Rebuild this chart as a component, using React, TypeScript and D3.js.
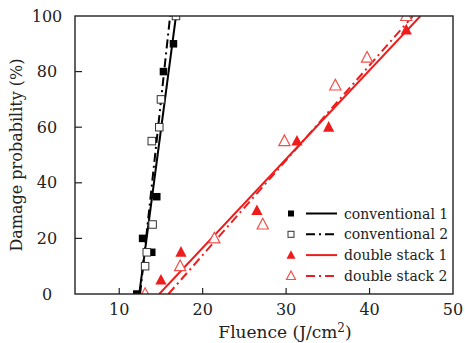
import React from 'react';
import * as d3 from 'd3';

// measured points (fluence J/cm2, damage probability %)
const conv1 = [[12.1, 0], [12.8, 20], [13.9, 15], [14.5, 35], [15.3, 80], [16.5, 90]];
const conv2 = [[13.1, 10], [13.3, 15], [14.0, 25], [13.9, 55], [14.8, 60], [15.0, 70], [16.8, 100]];
const double1 = [[15.0, 5], [17.4, 15], [26.5, 30], [31.3, 55], [35.1, 60], [44.4, 95]];
const double2 = [[13.1, 0], [17.3, 10], [21.4, 20], [27.2, 25], [29.8, 55], [35.9, 75], [39.7, 85], [44.4, 100]];

// fitted lines as (x at 0 %, x at 100 %)
const fitConv1 = [[12.4, 0], [16.8, 100]];
const fitConv2 = [[12.5, 0], [16.1, 100]];
const fitDouble1 = [[14.8, 0], [46.1, 100]];
const fitDouble2 = [[15.9, 0], [45.2, 100]];

const xTicks = [10, 20, 30, 40, 50];
const yTicks = [0, 20, 40, 60, 80, 100];
const legendLabels = ['conventional 1', 'conventional 2', 'double stack 1', 'double stack 2'];

const RED = '#ee1d1d';
const PINK = '#f0504a';
const FONT = '"DejaVu Serif", serif';

const W = 465, H = 343;
const left = 75, right = 453, top = 16, bottom = 294;

const x = d3.scaleLinear().domain([4.7, 50]).range([left, right]);
const y = d3.scaleLinear().domain([0, 100]).range([bottom, top]);
const line = d3.line<number[]>().x(d => x(d[0])).y(d => y(d[1]));

const tri = (cx: number, cy: number, s: number) =>
  `M${cx},${cy - s * 0.55}L${cx + s / 2},${cy + s * 0.4}L${cx - s / 2},${cy + s * 0.4}Z`;

const Marker = ({ kind, cx, cy, s }: { kind: number; cx: number; cy: number; s: number }) => {
  if (kind === 0) return <rect x={cx - s / 2} y={cy - s / 2} width={s} height={s} fill="#000" />;
  if (kind === 1)
    return <rect x={cx - s / 2} y={cy - s / 2} width={s} height={s} fill="#fff" stroke="#333" strokeWidth={1} />;
  if (kind === 2) return <path d={tri(cx, cy, s * 1.5)} fill={RED} />;
  return <path d={tri(cx, cy, s * 1.5)} fill="#fff" stroke={PINK} strokeWidth={1.2} />;
};

const lineStyles = [
  { color: '#000', dash: undefined },
  { color: '#000', dash: '9,4,2,4' },
  { color: RED, dash: undefined },
  { color: RED, dash: '9,4,2,4' },
];

export default function App() {
  const series = [conv1, conv2, double1, double2];
  const fits = [fitConv1, fitConv2, fitDouble1, fitDouble2];
  const legendY = [213.5, 234.3, 255.1, 275.9];
  return (
    <svg width={W} height={H} style={{ position: 'absolute', left: 0, top: 0, background: '#fff' }} fontFamily={FONT}>
      <defs>
        <clipPath id="plot">
          <rect x={left} y={top} width={right - left} height={bottom - top} />
        </clipPath>
      </defs>

      {/* ticks */}
      {xTicks.slice(0, -1).map(t => (
        <line key={t} x1={x(t)} x2={x(t)} y1={bottom} y2={bottom - 6} stroke="#222" strokeWidth={1.2} />
      ))}
      {yTicks.slice(1, -1).map(t => (
        <line key={t} x1={left} x2={left + 7} y1={y(t)} y2={y(t)} stroke="#222" strokeWidth={1.2} />
      ))}

      <g clipPath="url(#plot)">
        {fits.map((f, i) => (
          <path key={i} d={line(f) || ''} fill="none" stroke={lineStyles[i].color}
            strokeWidth={2} strokeDasharray={lineStyles[i].dash} />
        ))}
        {series.map((s, i) =>
          s.map((d, j) => <Marker key={i + '-' + j} kind={i} cx={x(d[0])} cy={y(d[1])} s={7.5} />)
        )}
      </g>

      <rect x={left} y={top} width={right - left} height={bottom - top} fill="none" stroke="#222" strokeWidth={1.4} />

      {/* tick labels */}
      {xTicks.map(t => (
        <text key={t} x={x(t)} y={315} fontSize={16} textAnchor="middle" fill="#222">{t}</text>
      ))}
      {yTicks.map(t => (
        <text key={t} x={47} y={y(t) + 5.5} fontSize={16} textAnchor="middle" fill="#222">{t}</text>
      ))}

      <text x={285} y={338} fontSize={17} textAnchor="middle" fill="#222">
        Fluence (J/cm<tspan dy={-6} fontSize={12}>2</tspan><tspan dy={6}>)</tspan>
      </text>
      <text transform={`translate(22,${155}) rotate(-90)`} fontSize={16} textAnchor="middle" fill="#222">
        Damage probability (%)
      </text>

      {/* legend */}
      {legendLabels.map((lab, i) => (
        <g key={lab}>
          <Marker kind={i} cx={291} cy={legendY[i]} s={6} />
          <line x1={306} x2={337} y1={legendY[i]} y2={legendY[i]} stroke={lineStyles[i].color}
            strokeWidth={2} strokeDasharray={lineStyles[i].dash} />
          <text x={344} y={legendY[i] + 5} fontSize={14} fill="#222">{lab}</text>
        </g>
      ))}
    </svg>
  );
}
